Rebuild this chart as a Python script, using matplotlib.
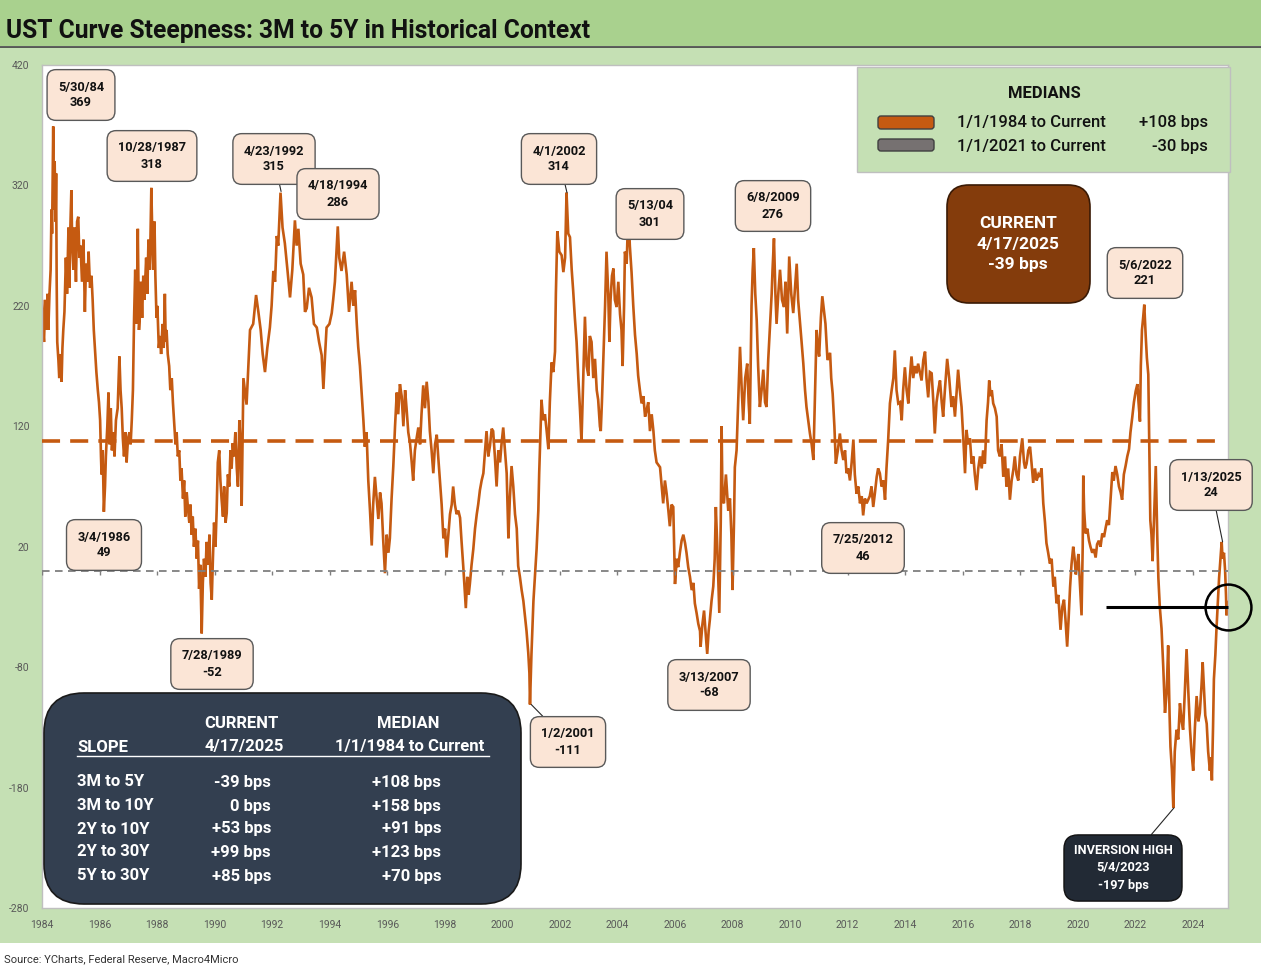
import matplotlib
matplotlib.use("Agg")
import matplotlib.pyplot as plt
from matplotlib.patches import FancyBboxPatch, Rectangle
from matplotlib.lines import Line2D
from matplotlib.transforms import IdentityTransform
import datetime as dt

plt.rcParams['font.family'] = ['Roboto', 'DejaVu Sans']

# ---------------- data (years since 1/1/1984, spread in bps) ----------------
t_1984 = [0.00, 0.04, 0.07, 0.11, 0.16, 0.19, 0.22, 0.26, 0.30, 0.33, 0.35, 0.39, 0.41, 0.44, 0.47, 0.49,
          0.51, 0.53, 0.57, 0.60, 0.64, 0.68, 0.71, 0.74, 0.78, 0.83, 0.87, 0.92, 0.95, 0.98, 1.02, 1.05,
          1.09, 1.13, 1.18, 1.22, 1.26, 1.30, 1.34, 1.39, 1.44, 1.49, 1.53, 1.58, 1.62, 1.67, 1.72, 1.76,
          1.80, 1.84, 1.89, 1.94, 1.98, 2.02, 2.05, 2.07, 2.11, 2.15, 2.19, 2.22, 2.27, 2.31, 2.35, 2.39,
          2.43, 2.48, 2.52, 2.57, 2.63, 2.69, 2.73, 2.77, 2.81, 2.85, 2.90, 2.94, 2.99, 3.04, 3.08, 3.12,
          3.16, 3.20, 3.24, 3.27, 3.30, 3.33, 3.37, 3.41, 3.44, 3.48, 3.52, 3.56, 3.62, 3.66, 3.70, 3.75,
          3.80, 3.84, 3.87, 3.91, 3.94, 3.98, 4.01, 4.06, 4.10, 4.14, 4.19, 4.23, 4.27, 4.30, 4.33, 4.37,
          4.42, 4.46, 4.51, 4.55, 4.59, 4.64, 4.68, 4.72, 4.77, 4.81, 4.85, 4.90, 4.94, 4.98, 5.03, 5.08,
          5.12, 5.16, 5.20, 5.24, 5.28, 5.33, 5.38, 5.42, 5.46, 5.50, 5.55, 5.59, 5.63, 5.68, 5.72, 5.77,
          5.82, 5.86, 5.90, 5.94, 5.98, 6.03, 6.07, 6.11, 6.16, 6.20, 6.24, 6.29, 6.33, 6.38, 6.42, 6.46,
          6.51, 6.55, 6.59, 6.63, 6.67, 6.72, 6.77, 6.81, 6.86, 6.90, 6.94]
v_1984 = [224, 200, 190, 225, 200, 230, 200, 230, 250, 300, 280, 369, 300, 340, 290, 330,
          240, 190, 175, 160, 180, 157, 185, 200, 215, 260, 230, 285, 235, 280, 316, 270,
          250, 285, 240, 290, 294, 260, 270, 240, 275, 215, 255, 240, 265, 235, 245, 225,
          200, 185, 165, 150, 140, 125, 95, 80, 100, 49, 70, 95, 120, 148, 105, 135,
          100, 115, 95, 125, 135, 178, 150, 135, 110, 95, 115, 90, 110, 115, 105, 125,
          150, 210, 250, 205, 230, 284, 200, 215, 240, 210, 245, 225, 260, 230, 275, 250,
          318, 270, 250, 290, 245, 210, 220, 185, 195, 180, 205, 185, 230, 190, 200, 180,
          170, 150, 160, 140, 125, 105, 115, 95, 100, 75, 85, 60, 75, 45, 65, 50,
          40, 55, 30, 45, 20, 35, 10, 25, -15, 5, -52, -10, 10, -5, 24, 5,
          30, -10, -24, 10, 40, 20, 50, 90, 100, 75, 60, 45, 70, 40, 48, 80,
          70, 100, 85, 106, 95, 115, 85, 70, 125, 105, 54]

t_1991 = [7.00, 7.11, 7.23, 7.34, 7.44, 7.52, 7.60, 7.67, 7.75, 7.83, 7.92, 7.98, 8.04, 8.10, 8.16, 8.21,
          8.29, 8.36, 8.44, 8.53, 8.62, 8.70, 8.79, 8.85, 8.91, 8.99, 9.08, 9.14, 9.20, 9.28, 9.37, 9.45,
          9.55, 9.63, 9.72, 9.78, 9.84, 9.89, 9.99, 10.07, 10.12, 10.18, 10.28, 10.33, 10.41, 10.50, 10.59,
          10.67, 10.76, 10.82, 10.88, 10.94, 10.99, 11.05, 11.11, 11.17, 11.22, 11.28, 11.34, 11.40, 11.46,
          11.51, 11.57, 11.63, 11.69, 11.75, 11.80, 11.86, 11.92, 11.98, 12.04, 12.09, 12.15, 12.21, 12.27,
          12.33, 12.38, 12.44, 12.50, 12.56, 12.62, 12.67, 12.73, 12.79, 12.85, 12.90, 12.96, 13.02, 13.08,
          13.14, 13.19, 13.25, 13.31, 13.37, 13.43, 13.48, 13.54, 13.60, 13.66, 13.72, 13.77, 13.83, 13.89,
          13.95, 14.01, 14.06]
v_1991 = [160, 138, 200, 205, 229, 215, 200, 180, 165, 185, 202, 220, 249, 240, 278, 270,
          314, 285, 272, 250, 227, 250, 291, 270, 284, 255, 246, 215, 218, 235, 227, 205,
          202, 190, 179, 151, 180, 202, 205, 214, 225, 240, 286, 260, 249, 265, 246,
          215, 240, 220, 233, 205, 186, 170, 148, 125, 103, 115, 75, 50, 21,
          55, 78, 60, 43, 65, 56, 25, -2, 30, 15, 27, 60, 87, 120,
          148, 130, 155, 145, 120, 150, 135, 115, 106, 90, 75, 100, 110, 119,
          105, 130, 154, 135, 157, 140, 116, 100, 81, 105, 113, 95, 75, 55,
          27, 35, 11]

t_1998 = [14.18, 14.24, 14.29, 14.35, 14.41, 14.47, 14.53, 14.58, 14.64, 14.69, 14.73, 14.78, 14.83, 14.87,
          14.93, 14.99, 15.05, 15.11, 15.16, 15.22, 15.28, 15.34, 15.40, 15.45, 15.51, 15.57, 15.63, 15.68,
          15.74, 15.80, 15.86, 15.92, 15.97, 16.03, 16.09, 16.15, 16.21, 16.26, 16.32, 16.38, 16.44, 16.50,
          16.55, 16.61, 16.67, 16.73, 16.79, 16.84, 16.90, 16.94, 16.96, 17.01, 17.08, 17.13, 17.19, 17.25,
          17.28, 17.33, 17.36, 17.42, 17.48, 17.54, 17.60, 17.65, 17.71, 17.77, 17.83, 17.86, 17.91, 17.98,
          18.06, 18.12, 18.18, 18.23, 18.29, 18.35, 18.41, 18.46, 18.52, 18.58, 18.64, 18.70, 18.75, 18.81,
          18.87, 18.93, 18.99, 19.04, 19.10, 19.16, 19.22, 19.28, 19.33, 19.39, 19.42, 19.46, 19.51, 19.57,
          19.62, 19.68, 19.72, 19.76, 19.81, 19.86, 19.91, 19.97, 20.03, 20.09, 20.14, 20.18, 20.23, 20.26,
          20.32, 20.38, 20.43, 20.49, 20.55, 20.61, 20.67, 20.72, 20.78, 20.84, 20.90, 20.96, 21.01, 21.07,
          21.13, 21.19, 21.25, 21.30, 21.36]
v_1998 = [47, 55, 70, 55, 47, 50, 44, 25, 4, -15, -31, -5, -20, -11,
          5, 18, 35, 47, 55, 67, 75, 81, 100, 116, 95, 104, 118, 116,
          95, 70, 100, 90, 105, 119, 100, 81, 27, 60, 87, 70, 47, 35,
          4, -5, -16, -25, -39, -50, -68, -85, -111, -70, -25, -5, 18, 50,
          81, 120, 142, 125, 130, 116, 101, 140, 173, 165, 182, 230, 282, 265,
          262, 248, 260, 314, 280, 277, 250, 233, 210, 190, 160, 133, 107, 160,
          211, 170, 162, 195, 190, 160, 176, 150, 142, 120, 116, 140, 176, 220,
          265, 230, 190, 225, 245, 251, 225, 219, 240, 213, 200, 170, 220, 265,
          255, 301, 270, 248, 220, 196, 180, 162, 150, 139, 145, 128, 133, 140,
          116, 130, 116, 100, 90]

t_2005 = [21.48, 21.54, 21.59, 21.65, 21.71, 21.77, 21.82, 21.88, 21.94, 22.00, 22.06, 22.11, 22.17, 22.23,
          22.29, 22.35, 22.40, 22.46, 22.52, 22.58, 22.64, 22.69, 22.75, 22.81, 22.87, 22.89, 22.95, 23.01,
          23.06, 23.12, 23.17, 23.21, 23.27, 23.33, 23.38, 23.42, 23.47, 23.54, 23.59, 23.62, 23.65, 23.70,
          23.77, 23.85, 23.91, 23.96, 24.00, 24.05, 24.08, 24.14, 24.16, 24.21, 24.26, 24.32, 24.37, 24.44,
          24.51, 24.56, 24.60, 24.66, 24.70, 24.74, 24.79, 24.84, 24.89, 24.95, 25.01, 25.07, 25.13, 25.18,
          25.24, 25.30, 25.36, 25.39, 25.44, 25.49, 25.53, 25.59, 25.65, 25.72, 25.79, 25.84, 25.90, 25.97,
          26.04, 26.11, 26.17, 26.23, 26.28, 26.34, 26.40, 26.46, 26.52, 26.57, 26.63, 26.69, 26.75, 26.81,
          26.84, 26.89, 26.92, 26.97, 27.01, 27.07, 27.12, 27.18, 27.23, 27.30, 27.39, 27.43, 27.48, 27.54,
          27.59, 27.66, 27.73, 27.79, 27.85, 27.91, 27.96, 28.02, 28.08, 28.14, 28.20, 28.25, 28.31, 28.37,
          28.43, 28.49, 28.54, 28.60, 28.66]
v_2005 = [86, 70, 56, 75, 64, 50, 37, 55, 53, -11, 10, 3, 15, 25,
          30, 23, 15, 3, -5, -16, -10, -27, -35, -44, -50, -63, -45, -33,
          -50, -69, -50, -41, -25, -13, 10, 53, 20, -35, 40, 120, 60, 56,
          80, 50, 60, 30, -16, 40, 86, 100, 114, 150, 186, 150, 125, 160,
          172, 140, 122, 220, 250, 268, 230, 208, 170, 136, 150, 167, 140, 136,
          175, 203, 230, 250, 276, 230, 205, 230, 250, 225, 219, 240, 197, 261,
          230, 214, 235, 255, 225, 208, 190, 172, 150, 136, 125, 114, 105, 92,
          120, 170, 200, 185, 178, 210, 228, 215, 205, 175, 181, 160, 147, 120,
          89, 100, 114, 100, 92, 100, 81, 85, 75, 90, 109, 80, 64, 70,
          56, 62, 46, 60, 56]

t_2012 = [28.77, 28.83, 28.89, 28.95, 29.01, 29.06, 29.12, 29.18, 29.24, 29.30, 29.35, 29.41, 29.47, 29.53,
          29.59, 29.64, 29.70, 29.76, 29.82, 29.88, 29.93, 29.99, 30.05, 30.11, 30.16, 30.22, 30.28, 30.34,
          30.40, 30.45, 30.51, 30.57, 30.63, 30.69, 30.74, 30.80, 30.86, 30.92, 30.98, 31.03, 31.09, 31.15,
          31.21, 31.27, 31.32, 31.38, 31.46, 31.53, 31.61, 31.67, 31.73, 31.79, 31.84, 31.90, 31.96, 32.02,
          32.08, 32.13, 32.19, 32.25, 32.31, 32.37, 32.42, 32.48, 32.54, 32.60, 32.66, 32.71, 32.77, 32.83,
          32.88, 32.92, 32.97, 33.01, 33.06, 33.12, 33.18, 33.23, 33.29, 33.35, 33.41, 33.47, 33.52, 33.58,
          33.64, 33.70, 33.76, 33.81, 33.87, 33.93, 33.99, 34.07, 34.13, 34.17, 34.22, 34.28, 34.34, 34.39,
          34.45, 34.51, 34.57, 34.63, 34.68, 34.74, 34.80, 34.86, 34.91, 34.97, 35.03, 35.09, 35.15, 35.20,
          35.26, 35.32, 35.40, 35.46, 35.52, 35.57, 35.63]
v_2012 = [62, 70, 53, 65, 78, 85, 81, 70, 75, 59, 85, 109, 139, 150,
          160, 183, 150, 139, 140, 125, 150, 169, 150, 139, 160, 178, 160, 170,
          164, 172, 165, 158, 175, 182, 160, 144, 165, 164, 140, 114, 140, 150,
          158, 140, 128, 150, 176, 160, 136, 145, 128, 150, 167, 150, 136, 110,
          81, 117, 105, 110, 89, 95, 80, 67, 85, 95, 85, 100, 89, 125,
          140, 158, 145, 150, 139, 135, 128, 100, 95, 105, 78, 95, 70, 85,
          59, 75, 84, 95, 80, 75, 95, 110, 90, 85, 89, 100, 103, 90,
          73, 85, 75, 80, 78, 85, 56, 40, 23, 15, 6, 10, -13, -5,
          -27, -20, -49, -30, -24, -40, -63]

t_2019 = [35.68, 35.73, 35.78, 35.84, 35.89, 35.93, 35.98, 36.02, 36.07, 36.13, 36.17, 36.19, 36.22, 36.27,
          36.33, 36.39, 36.44, 36.50, 36.56, 36.62, 36.67, 36.73, 36.79, 36.85, 36.91, 36.97, 37.02, 37.08,
          37.14, 37.20, 37.25, 37.31, 37.37, 37.43, 37.49, 37.54, 37.60, 37.66, 37.72, 37.78, 37.83, 37.89,
          37.95, 38.01, 38.07, 38.11, 38.16, 38.19, 38.23, 38.27, 38.31, 38.36, 38.40, 38.45, 38.48, 38.52,
          38.56, 38.60, 38.66, 38.71, 38.76, 38.80, 38.85, 38.91, 38.97, 39.03, 39.09, 39.14, 39.19, 39.22,
          39.27, 39.32, 39.37, 39.43, 39.49, 39.55, 39.61, 39.66, 39.72, 39.78, 39.84, 39.90, 39.95, 40.01,
          40.07, 40.13, 40.19, 40.24, 40.30, 40.34, 40.38, 40.43, 40.48, 40.53, 40.59, 40.63, 40.66, 40.70,
          40.73, 40.78, 40.82, 40.87, 40.91, 40.96, 41.00, 41.03, 41.08, 41.12, 41.15, 41.17, 41.20, 41.22]
v_2019 = [-40, -14, 5, 20, 10, -3, 5, 14, -10, -37, 20, 79, 50, 31,
          35, 25, 20, 15, 18, 11, 22, 25, 20, 31, 28, 36, 42, 38,
          60, 82, 75, 87, 80, 70, 65, 59, 80, 87, 95, 101, 115, 127,
          140, 149, 155, 140, 124, 170, 200, 210, 221, 195, 177, 163, 110, 42,
          30, 8, 50, 87, 30, -6, -30, -48, -80, -118, -100, -62, -120, -146,
          -165, -197, -150, -132, -140, -110, -125, -132, -100, -65, -100, -132, -150, -166,
          -130, -104, -125, -118, -95, -76, -95, -120, -127, -150, -166, -155, -174, -130,
          -90, -70, -48, -25, -6, 10, 24, 10, 15, 0, -20, -37, -25, -30]

tick_years = list(range(1984, 2025, 2))
y_ticks = [-280, -180, -80, 20, 120, 220, 320, 420]
median_1984 = 108
median_2021_level = 0          # level at which the grey median line is drawn in the picture
current_level = -30            # level of the "current" marker line in the picture

peak_dates = ["5/30/84", "10/28/1987", "4/23/1992", "4/18/1994", "4/1/2002", "5/13/04", "6/8/2009",
              "5/6/2022", "1/13/2025", "3/4/1986", "7/25/2012", "7/28/1989", "3/13/2007", "1/2/2001"]
peak_values = [369, 318, 315, 286, 314, 301, 276, 221, 24, 49, 46, -52, -68, -111]

slope_names = ["3M to 5Y", "3M to 10Y", "2Y to 10Y", "2Y to 30Y", "5Y to 30Y"]
slope_current = [-39, 0, 53, 99, 85]
slope_median = [108, 158, 91, 123, 70]

# ---------------- figure ----------------
W, H = 1261, 974
fig = plt.figure(figsize=(W / 100, H / 100), dpi=100)
fig.patch.set_facecolor('white')

def fx(px):
    return px / W

def fy(py):
    return 1 - py / H

ORANGE = '#c55a11'
fig.add_artist(Rectangle((0, fy(943)), 1, fy(47) - fy(943), transform=fig.transFigure,
                         fc='#c5e0b4', ec='none', zorder=-10))
fig.add_artist(Rectangle((0, fy(46)), 1, 46 / H, transform=fig.transFigure,
                         fc='#a9d18e', ec='none', zorder=-9))
fig.add_artist(Line2D([0, 1], [fy(46.5), fy(46.5)], transform=fig.transFigure,
                      color='#404040', lw=1.2, zorder=-8))
fig.text(fx(6), fy(31), "UST Curve Steepness: 3M to 5Y in Historical Context",
         fontsize=17.7, fontweight='bold', color='#111111', ha='left', va='center')
fig.text(fx(4), fy(959), "Source: YCharts, Federal Reserve, Macro4Micro",
         fontsize=8, color='#333333', ha='left', va='center')

ax = fig.add_axes([fx(42), fy(908), (1228 - 42) / W, (908 - 65) / H])
ax.set_facecolor('white')
for s in ax.spines.values():
    s.set_color('#bfbfbf')
    s.set_linewidth(1.0)

xs = [1984 + t for t in t_1984 + t_1991 + t_1998 + t_2005 + t_2012 + t_2019]
ys = v_1984 + v_1991 + v_1998 + v_2005 + v_2012 + v_2019
ax.plot(xs, ys, color=ORANGE, lw=1.9, zorder=2, solid_joinstyle='miter')

ax.plot([1984, 2025.0], [median_1984, median_1984], color=ORANGE, lw=2.6,
        dashes=(5, 2.8), zorder=3)
ax.plot([1984, 2025.22], [median_2021_level, median_2021_level], color='#7f7f7f', lw=1.3,
        dashes=(4.2, 3.0), zorder=3)
ax.vlines(tick_years, -3.5, 0, color='#7f7f7f', lw=1.0, zorder=3)

ax.set_xlim(1984, 2025.22)
ax.set_ylim(-280, 420)
ax.set_xticks(tick_years)
ax.set_xticklabels([str(y) for y in tick_years])
ax.set_yticks(y_ticks)
ax.set_yticklabels([str(v) for v in y_ticks])
ax.tick_params(axis='both', length=0, labelsize=7.5, labelcolor='#595959')
ax.tick_params(axis='y', pad=9)
ax.tick_params(axis='x', pad=9)

# current marker
ax.plot([2020.98, 2025.22], [current_level, current_level], color='black', lw=2.2, zorder=5,
        clip_on=False, solid_capstyle='butt')
ax.plot([2025.22], [current_level], 'o', ms=33, mfc='none', mec='black', mew=1.8,
        clip_on=False, zorder=5)

# peak / trough labels
def to_year(s):
    m, d, y = [int(p) for p in s.split('/')]
    if y < 100:
        y += 1900
    doy = dt.date(y, m, d).timetuple().tm_yday
    return y + (doy - 1) / 365.25

box_px = [(81, 95), (152, 156), (274, 159), (338, 194), (559, 159), (650, 214), (773, 206),
          (1145, 273), (1211, 485), (104, 545), (863, 548), (212, 664), (709, 685), (568, 742)]
with_line = [False, False, True, False, True, False, False, False, True, False, False, False, False, True]

for lab, val, (bx, by), ln in zip(peak_dates, peak_values, box_px, with_line):
    kw = dict(arrowprops=dict(arrowstyle='-', color='#262626', lw=0.8, shrinkA=0, shrinkB=0)) if ln else {}
    ax.annotate(f"{lab}\n{val}", xy=(to_year(lab), val), xytext=(bx, H - by),
                textcoords='figure pixels', ha='center', va='center', fontsize=9.2,
                fontweight='bold', color='#111111', linespacing=1.3, annotation_clip=False,
                bbox=dict(boxstyle='round,pad=0.85,rounding_size=0.7', fc='#fbe5d6',
                          ec='#595959', lw=1.0), zorder=6, **kw)

# inversion high
ax.annotate("INVERSION HIGH\n5/4/2023\n-197 bps", xy=(to_year("5/4/2023"), -197),
            xytext=(1123, H - 868), textcoords='figure pixels', ha='center', va='center',
            fontsize=9.2, fontweight='bold', color='white', linespacing=1.4,
            annotation_clip=False,
            bbox=dict(boxstyle='round,pad=0.75,rounding_size=1.1', fc='#222a35', ec='#111111', lw=1),
            arrowprops=dict(arrowstyle='-', color='#262626', lw=0.8, shrinkA=0, shrinkB=0), zorder=6)

# ---------------- overlay boxes (display pixel coordinates) ----------------
ident = IdentityTransform()

def rbox(x0, y0, x1, y1, fc, ec, r, lw=1.0, z=5):
    p = FancyBboxPatch((x0, H - y1), x1 - x0, y1 - y0,
                       boxstyle=f"round,pad=0,rounding_size={r}",
                       transform=ident, fc=fc, ec=ec, lw=lw, zorder=z)
    fig.add_artist(p)

# legend
fig.add_artist(Rectangle((857, H - 172), 1230 - 857, 172 - 67, transform=ident,
                         fc='#c5e0b4', ec='#bfbfbf', lw=1.0, zorder=5))
fig.text(fx(1044), fy(93), "MEDIANS", fontsize=12, fontweight='bold', color='#111111',
         ha='center', va='center', zorder=6)
rbox(878, 116, 934, 129, ORANGE, '#404040', 3, lw=1.0, z=6)
rbox(878, 139, 934, 151, '#767171', '#404040', 3, lw=1.0, z=6)
lw_ = dict(fontsize=12, fontweight='medium', color='#111111', va='center', zorder=6)
fig.text(fx(957), fy(123), "1/1/1984 to Current", ha='left', **lw_)
fig.text(fx(1208), fy(123), f"{median_1984:+d} bps", ha='right', **lw_)
fig.text(fx(957), fy(146), "1/1/2021 to Current", ha='left', **lw_)
fig.text(fx(1208), fy(146), "-30 bps", ha='right', **lw_)

# current box
rbox(947, 185, 1090, 303, '#843c0c', '#3a1a05', 22, lw=1.2, z=5)
fig.text(fx(1018), fy(244), f"CURRENT\n4/17/2025\n{slope_current[0]} bps", fontsize=12.5,
         fontweight='bold', color='white', ha='center', va='center', linespacing=1.45, zorder=6)

# table box
rbox(44, 693, 521, 904, '#333f50', '#1a1a1a', 40, lw=1.2, z=5)
tw = dict(fontsize=12, fontweight='bold', color='white', va='center', zorder=6)
fig.text(fx(241), fy(723), "CURRENT", ha='center', **tw)
fig.text(fx(408), fy(723), "MEDIAN", ha='center', **tw)
fig.text(fx(77), fy(747), "SLOPE", ha='left', **tw)
fig.text(fx(244), fy(747), "4/17/2025", ha='center', **tw)
fig.text(fx(410), fy(747), "1/1/1984 to Current", ha='center', **tw)
fig.add_artist(Line2D([77, 489], [H - 756, H - 756], transform=ident, color='white', lw=1.0, zorder=6))

def fmt(v):
    return "0 bps" if v == 0 else f"{v:+d} bps"

row_y = [782, 806, 829, 852, 876]
for name, c, m, yy in zip(slope_names, slope_current, slope_median, row_y):
    fig.text(fx(77), fy(yy), name, ha='left', **tw)
    fig.text(fx(271), fy(yy), fmt(c), ha='right', **tw)
    fig.text(fx(441), fy(yy), fmt(m), ha='right', **tw)

fig.savefig("out.png", dpi=100, facecolor='white')
